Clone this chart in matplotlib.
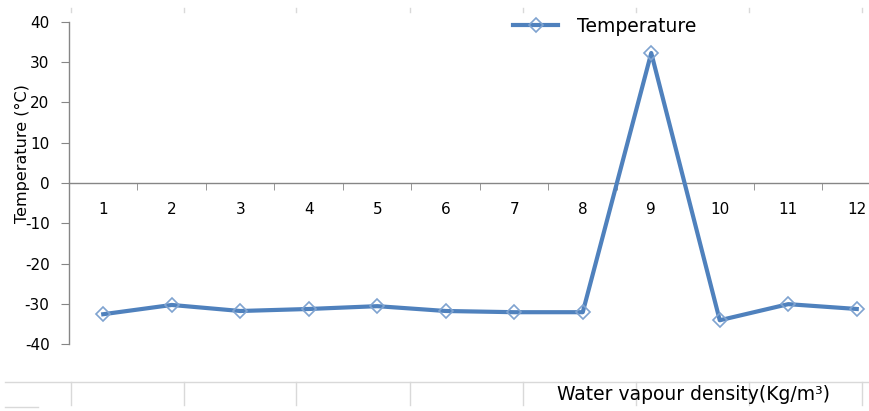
import matplotlib
matplotlib.use("Agg")
import matplotlib.pyplot as plt
from matplotlib.lines import Line2D
import numpy as np

# data
categories = [1, 2, 3, 4, 5, 6, 7, 8, 9, 10, 11, 12]
temperature = [-32.6, -30.3, -31.8, -31.3, -30.6, -31.8, -32.1, -32.1, 32.3, -34.1, -30.1, -31.3]
yticks = [-40, -30, -20, -10, 0, 10, 20, 30, 40]

LINE = "#4F81BD"
GREY = "#868686"

fig = plt.figure(figsize=(8.7, 4.11), dpi=100)
ax = fig.add_axes([69 / 870, 1 - 344 / 411, 822 / 870, 322 / 411])

x = np.array(categories)
ax.plot(x, temperature, color=LINE, lw=3, marker="D", ms=7.5,
        mfc="none", mec="#7FA3D0", mew=1.2, label="Temperature", zorder=3)

ax.set_xlim(0.5, len(categories) + 0.5)
ax.set_ylim(-40, 40)
ax.set_yticks(yticks)
ax.set_yticklabels([str(v) for v in yticks])

for s in ("top", "right"):
    ax.spines[s].set_visible(False)
ax.spines["bottom"].set_position(("data", 0))
ax.spines["bottom"].set_color(GREY)
ax.spines["left"].set_color(GREY)
ax.spines["bottom"].set_linewidth(1)
ax.spines["left"].set_linewidth(1)

# category labels in the middle, tick marks on boundaries
ax.set_xticks(x)
ax.set_xticklabels([str(c) for c in categories])
ax.set_xticks(x[:-1] + 0.5, minor=True)
ax.tick_params(axis="x", which="major", length=0, pad=14, labelsize=11)
ax.tick_params(axis="x", which="minor", length=5, color=GREY, direction="out")
ax.tick_params(axis="y", length=6, color=GREY, direction="out", pad=8, labelsize=11)

ax.set_ylabel("Temperature (°C)", fontsize=11.5)
ax.yaxis.set_label_coords(-0.048, 0.59)

fig.text(557 / 870, 1 - 394 / 411, "Water vapour density(Kg/m³)",
         ha="left", va="center", fontsize=13.5)

ax.legend(loc="center left", bbox_to_anchor=(500 / 870, 1 - 26 / 411),
          bbox_transform=fig.transFigure, frameon=False, fontsize=13.5,
          handlelength=2.4, handletextpad=1.0, borderaxespad=0.3)

# faint table grid lines of the source page
lc = "#D9D9D9"
fig.add_artist(Line2D([5 / 870, 1], [1 - 382 / 411] * 2, color=lc, lw=1,
                      transform=fig.transFigure))
for px in [71, 184, 296, 410, 523, 636, 749, 862]:
    fx = px / 870
    fig.add_artist(Line2D([fx, fx], [1 - 382 / 411, 1 - 405 / 411], color=lc,
                          lw=1, transform=fig.transFigure))
    fig.add_artist(Line2D([fx, fx], [1 - 8 / 411, 1 - 12 / 411], color=lc,
                          lw=1, transform=fig.transFigure))
fig.add_artist(Line2D([5 / 870, 38 / 870], [1 - 407 / 411] * 2, color=lc, lw=1,
                      transform=fig.transFigure))

fig.savefig("out.png", dpi=100)
